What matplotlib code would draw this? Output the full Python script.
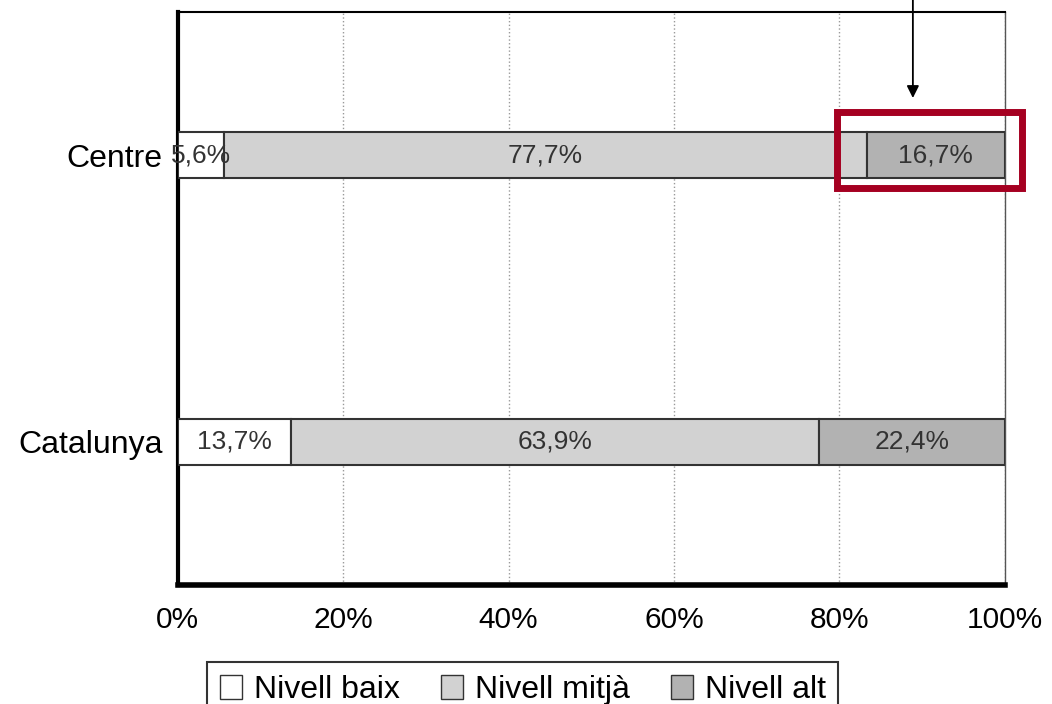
import matplotlib
matplotlib.use("Agg")
import matplotlib.pyplot as plt
from matplotlib.patches import Rectangle, Patch
import numpy as np

plt.rcParams['font.family'] = ['Liberation Sans', 'DejaVu Sans']

categories = ["Catalunya", "Centre"]
series_names = ["Nivell baix", "Nivell mitjà", "Nivell alt"]
baix = [13.7, 5.6]
mitja = [63.9, 77.7]
alt = [22.4, 16.7]
tick_values = [0, 20, 40, 60, 80, 100]
tick_labels = ["0%", "20%", "40%", "60%", "80%", "100%"]

colors = ["#ffffff", "#d2d2d2", "#b2b2b2"]

fig = plt.figure(figsize=(10.52, 7.04), dpi=100)
ax = fig.add_axes([0.169, 0.169, 0.786, 0.814])

y = np.arange(len(categories))
left = np.zeros(len(categories))
handles = []
for name, vals, col in zip(series_names, [baix, mitja, alt], colors):
    ax.barh(y, vals, left=left, height=0.16, color=col,
            edgecolor="#333333", linewidth=1.5, zorder=3)
    for yi, l, v in zip(y, left, vals):
        ax.text(l + v / 2, yi, f"{v:.1f}%".replace(".", ","),
                ha="center", va="center", fontsize=19, color="#333333", zorder=4)
    left = left + np.array(vals)
    handles.append(Patch(facecolor=col, edgecolor="#333333", label=name))

ax.set_xlim(0, 100)
ax.set_ylim(-0.5, 1.5)
ax.set_yticks(y)
ax.set_yticklabels(categories, fontsize=23)
ax.set_xticks(tick_values)
ax.set_xticklabels(tick_labels, fontsize=21.5)
ax.tick_params(axis="y", length=0, pad=11)
ax.tick_params(axis="x", length=0, pad=15)
ax.xaxis.grid(True, linestyle=":", color="#999999", linewidth=1.0, zorder=0)
ax.set_axisbelow(True)

ax.spines["left"].set_linewidth(3)
ax.spines["bottom"].set_linewidth(4)
ax.spines["top"].set_linewidth(1.5)
ax.spines["right"].set_linewidth(1.0)
ax.spines["right"].set_color("#555555")

# Red highlight rectangle around the "Nivell alt" segment of Centre
rect = Rectangle((0.797, 0.693), 0.224, 0.132, transform=ax.transAxes,
                 fill=False, edgecolor="#a50021", linewidth=5,
                 clip_on=False, zorder=6)
ax.add_patch(rect)

# Arrow pointing down to the rectangle
ax.annotate("", xy=(0.889, 0.845), xycoords="axes fraction",
            xytext=(0.889, 1.03), textcoords="axes fraction",
            arrowprops=dict(arrowstyle="-|>", color="black", lw=1.3,
                            mutation_scale=18),
            annotation_clip=False)

leg = fig.legend(handles=handles, loc="upper center", bbox_to_anchor=(0.497, 0.060),
                 ncol=3, fontsize=23, frameon=True, fancybox=False,
                 edgecolor="black", handlelength=0.7, handleheight=0.8,
                 handletextpad=0.35, columnspacing=1.3, borderpad=0.4,
                 borderaxespad=0)
leg.get_frame().set_linewidth(1.5)

fig.savefig("out.png", dpi=100)
